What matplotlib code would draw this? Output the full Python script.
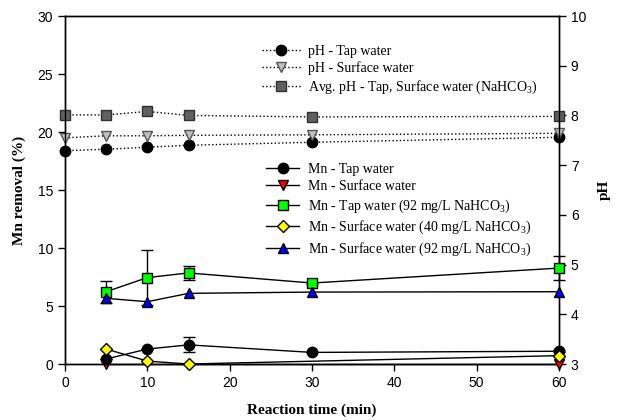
import matplotlib
matplotlib.use("Agg")
import matplotlib.pyplot as plt
from matplotlib.lines import Line2D
import numpy as np

# ---- data ----
time_ph = [0, 5, 10, 15, 30, 60]
ph_tap = [7.29, 7.32, 7.36, 7.40, 7.46, 7.56]
ph_surface = [7.55, 7.59, 7.59, 7.60, 7.61, 7.64]
ph_avg_nahco3 = [8.01, 8.01, 8.08, 8.00, 7.97, 7.98]

time_mn = [5, 10, 15, 30, 60]
mn_tap = [0.43, 1.29, 1.65, 1.0, 1.1]
mn_tap_err = [0.0, 0.0, 0.65, 0.0, 0.1]
time_mn_surface = [5, 60]
mn_surface = [0.0, 0.0]
mn_tap92 = [6.23, 7.45, 7.85, 6.98, 8.27]
mn_tap92_err = [0.93, 2.35, 0.6, 0.1, 1.05]
time_mn_surf40 = [5, 10, 15, 60]
mn_surf40 = [1.29, 0.25, 0.0, 0.72]
mn_surf92 = [5.66, 5.37, 6.09, 6.2, 6.23]

xticks = [0, 10, 20, 30, 40, 50, 60]
yticks_left = [0, 5, 10, 15, 20, 25, 30]
yticks_right = [3, 4, 5, 6, 7, 8, 9, 10]

serif = ["Liberation Serif", "DejaVu Serif"]
sans = ["Liberation Sans", "DejaVu Sans"]
plt.rcParams['font.family'] = sans
plt.rcParams['mathtext.fontset'] = 'custom'
plt.rcParams['mathtext.rm'] = 'Liberation Serif'
plt.rcParams['mathtext.it'] = 'Liberation Serif:italic'
plt.rcParams['mathtext.bf'] = 'Liberation Serif:bold'

fig = plt.figure(figsize=(6.17, 4.20), dpi=100)
ax = fig.add_axes([65/617, 1-364/420, (559-65)/617, (364-16)/420])
ax2 = ax.twinx()

ms = 7.5
# pH series on right axis
ax2.plot(time_ph, ph_tap, linestyle=':', color='black', lw=1.0, marker='o', ms=ms,
         mfc='black', mec='black', clip_on=False, zorder=3)
ax2.plot(time_ph, ph_surface, linestyle=':', color='black', lw=1.0, marker='v', ms=ms,
         mfc='#c0c0c0', mec='#555555', clip_on=False, zorder=3)
ax2.plot(time_ph, ph_avg_nahco3, linestyle=':', color='black', lw=1.0, marker='s', ms=6.5,
         mfc='#606060', mec='#303030', clip_on=False, zorder=3)
ax2.set_ylim(3, 10)
ax2.set_yticks(yticks_right)

# Mn series on left axis
ax.set_zorder(ax2.get_zorder() + 1)
ax.patch.set_visible(False)

eb_kw = dict(ecolor='black', elinewidth=1.0, capsize=4, capthick=1.0, lw=1.0, color='black', clip_on=False)
ax.plot(time_mn_surface, mn_surface, '-', color='black', lw=1.0, marker='v', ms=ms,
        mfc='red', mec='black', clip_on=False, zorder=3)
ax.errorbar(time_mn, mn_tap, yerr=mn_tap_err, marker='o', ms=ms, mfc='black', mec='black',
            zorder=4, **eb_kw)
ax.errorbar(time_mn, mn_tap92, yerr=mn_tap92_err, marker='s', ms=6.5, mfc='#00ff00', mec='black',
            zorder=4, **eb_kw)
ax.plot(time_mn_surf40, mn_surf40, '-', color='black', lw=1.0, marker='D', ms=6.5,
        mfc='#ffff00', mec='black', clip_on=False, zorder=5)
ax.plot(time_mn, mn_surf92, '-', color='black', lw=1.0, marker='^', ms=ms,
        mfc='#0000ff', mec='black', clip_on=False, zorder=5)

ax.set_xlim(0, 60)
ax.set_ylim(0, 30)
ax.set_xticks(xticks)
ax.set_yticks(yticks_left)

for a in (ax, ax2):
    a.tick_params(direction='out', length=5, width=1, labelsize=10)
    for s in a.spines.values():
        s.set_linewidth(1.0)

ax.set_xlabel('Reaction time (min)', fontfamily=serif, fontweight='bold', fontsize=11, labelpad=10)
ax.set_ylabel('Mn removal (%)', fontfamily=serif, fontweight='bold', fontsize=11, labelpad=8)
ax2.set_ylabel('pH', fontfamily=serif, fontweight='bold', fontsize=11, labelpad=8)

def h(ls, marker, mfc, mec, msz=ms):
    return Line2D([], [], linestyle=ls, color='black', lw=1.0, marker=marker, ms=msz, mfc=mfc, mec=mec)

ph_handles = [h(':', 'o', 'black', 'black'), h(':', 'v', '#c0c0c0', '#555555'),
              h(':', 's', '#606060', '#303030', 6.5)]
ph_labels = ['pH - Tap water', 'pH - Surface water', 'Avg. pH - Tap, Surface water (NaHCO$_3$)']
mn_handles = [h('-', 'o', 'black', 'black'), h('-', 'v', 'red', 'black'),
              h('-', 's', '#00ff00', 'black', 6.5), h('-', 'D', '#ffff00', 'black', 6.5),
              h('-', '^', '#0000ff', 'black')]
mn_labels = ['Mn - Tap water', 'Mn - Surface water', 'Mn - Tap water (92 mg/L NaHCO$_3$)',
             'Mn - Surface water (40 mg/L NaHCO$_3$)', 'Mn - Surface water (92 mg/L NaHCO$_3$)']

leg_font = dict(family=serif, size=10)
l1 = ax.legend(ph_handles, ph_labels, loc='upper left',
               bbox_to_anchor=(262/617, 1-45/420), bbox_transform=fig.transFigure,
               frameon=False, prop=leg_font, handlelength=2.8, handletextpad=0.5,
               labelspacing=0.25, borderpad=0, borderaxespad=0)
ax.add_artist(l1)
ax.legend(mn_handles, mn_labels, loc='upper left',
          bbox_to_anchor=(266/617, 1-163/420), bbox_transform=fig.transFigure,
          frameon=False, prop=leg_font, handlelength=2.4, handletextpad=0.6,
          labelspacing=0.3, borderpad=0, borderaxespad=0)

fig.savefig('out.png', dpi=100)
